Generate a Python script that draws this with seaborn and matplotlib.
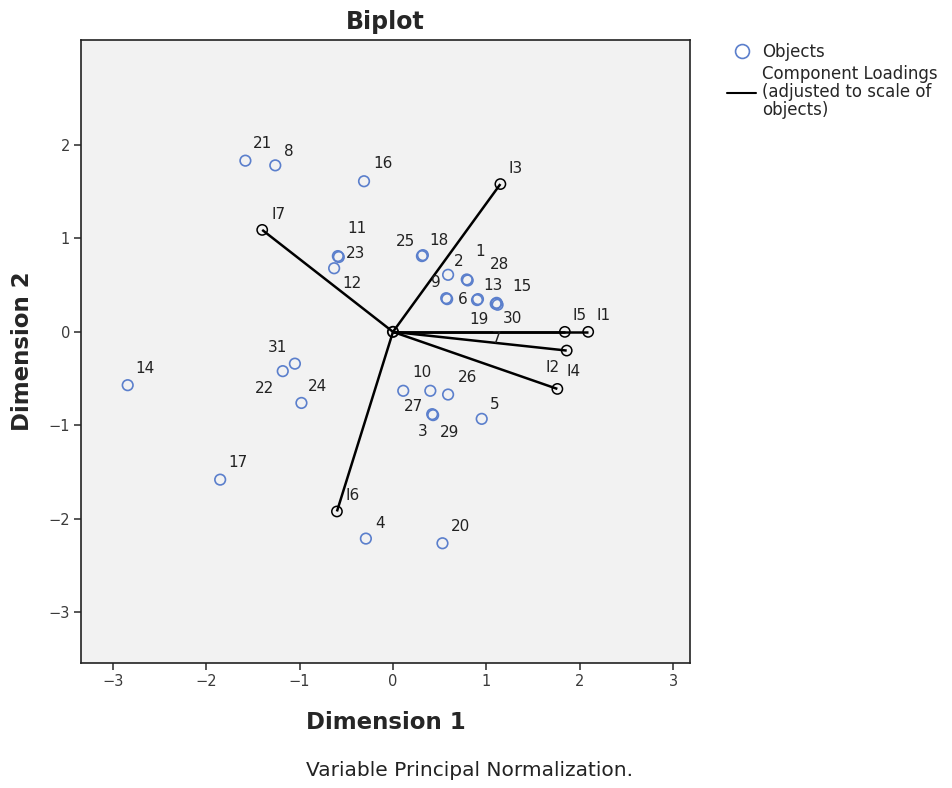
import matplotlib
matplotlib.use("Agg")
import matplotlib.pyplot as plt
from matplotlib.lines import Line2D
import seaborn as sns
import pandas as pd

# ---------------- data ----------------
obj_labels = ["1", "2", "3", "4", "5", "6", "7", "8", "9", "10",
              "11", "12", "13", "14", "15", "16", "17", "18", "19", "20",
              "21", "22", "23", "24", "25", "26", "27", "28", "29", "30", "31"]
obj_x = [0.79, 0.59, 0.42, -0.29, 0.95, 0.58, 1.12, -1.26, 0.57, 0.40,
         -0.59, -0.63, 0.90, -2.84, 1.10, -0.31, -1.85, 0.31, 0.91, 0.53,
         -1.58, -1.18, -0.58, -0.98, 0.32, 0.59, 0.11, 0.80, 0.43, 1.11, -1.05]
obj_y = [0.56, 0.61, -0.88, -2.21, -0.93, 0.35, 0.29, 1.78, 0.36, -0.63,
         0.81, 0.68, 0.34, -0.57, 0.30, 1.61, -1.58, 0.81, 0.35, -2.26,
         1.83, -0.42, 0.80, -0.76, 0.82, -0.67, -0.63, 0.55, -0.89, 0.31, -0.34]

load_labels = ["I1", "I2", "I3", "I4", "I5", "I6", "I7"]
load_x = [2.09, 1.86, 1.15, 1.76, 1.84, -0.60, -1.40]
load_y = [0.00, -0.20, 1.58, -0.61, 0.00, -1.92, 1.09]

x_ticks = [-3, -2, -1, 0, 1, 2, 3]
y_ticks = [-3, -2, -1, 0, 1, 2]

# ---------------- layout (label offsets in pixels) ----------------
obj_label_offsets = {
    "1": (13, 28), "2": (11, 13), "3": (-10, -17), "4": (14, 15), "5": (13, 14),
    "6": (16, 0), "7": (-1, -34), "8": (14, 14), "9": (-10, 16), "10": (-8, 18),
    "11": (19, 28), "12": (18, -15), "13": (16, 15), "14": (17, 17), "15": (26, 17),
    "16": (19, 18), "17": (18, 17), "18": (17, 16), "19": (1, -20), "20": (18, 17),
    "21": (17, 17), "22": (-18, -17), "23": (17, 4), "24": (16, 16), "25": (-17, 14),
    "26": (19, 17), "27": (10, -16), "28": (32, 16), "29": (16, -17), "30": (16, -16),
    "31": (-17, 16),
}
load_label_offsets = {
    "I1": (15, 16), "I2": (-14, -17), "I3": (15, 16), "I4": (16, 17),
    "I5": (15, 16), "I6": (16, 16), "I7": (16, 15),
}

blue = "#5B7FCC"
W, H = 953, 788

sns.set_theme(style="ticks")
plt.rcParams["font.family"] = ["DejaVu Sans"]

fig = plt.figure(figsize=(W / 100, H / 100), dpi=100)
ax = fig.add_axes([81 / W, 1 - 663 / H, (690 - 81) / W, (663 - 40) / H])
ax.set_facecolor("#F2F2F2")

objs = pd.DataFrame({"label": obj_labels, "x": obj_x, "y": obj_y})
loads = pd.DataFrame({"label": load_labels, "x": load_x, "y": load_y})

# loading vectors
for _, r in loads.iterrows():
    ax.plot([0, r["x"]], [0, r["y"]], color="black", lw=1.8, zorder=2,
            solid_capstyle="butt")
sns.scatterplot(data=loads, x="x", y="y", ax=ax, marker="o", s=55,
                facecolors="none", edgecolor="black", linewidth=1.1, zorder=3,
                legend=False)
ax.scatter([0], [0], s=55, facecolors="none", edgecolors="black",
           linewidths=1.3, zorder=3)

# objects
sns.scatterplot(data=objs, x="x", y="y", ax=ax, marker="o", s=58,
                facecolors="none", edgecolor=blue, linewidth=1.2, zorder=4,
                legend=False)

for _, r in objs.iterrows():
    dx, dy = obj_label_offsets[r["label"]]
    ax.annotate(r["label"], (r["x"], r["y"]), xytext=(dx, dy),
                textcoords="offset pixels", ha="center", va="center",
                fontsize=11, color="#222222", zorder=5)
for _, r in loads.iterrows():
    dx, dy = load_label_offsets[r["label"]]
    ax.annotate(r["label"], (r["x"], r["y"]), xytext=(dx, dy),
                textcoords="offset pixels", ha="center", va="center",
                fontsize=11, color="#222222", zorder=5)

ax.set_xlim(-3.34, 3.18)
ax.set_ylim(-3.54, 3.12)
ax.set_xticks(x_ticks)
ax.set_yticks(y_ticks)
ax.set_xticklabels([("\u2212" + str(-t)) if t < 0 else str(t) for t in x_ticks])
ax.set_yticklabels([("\u2212" + str(-t)) if t < 0 else str(t) for t in y_ticks])
ax.tick_params(axis="both", direction="out", length=5, width=1.2,
               labelsize=10.5, colors="#3a3a3a", pad=3)
for sp in ax.spines.values():
    sp.set_color("#222222")
    sp.set_linewidth(1.2)

ax.set_xlabel("Dimension 1", fontsize=16.5, fontweight="bold", labelpad=16)
ax.set_ylabel("Dimension 2", fontsize=16.5, fontweight="bold", labelpad=10)
ax.set_title("Biplot", fontsize=17, fontweight="bold", pad=8)

fig.text(470 / W, 1 - 771 / H, "Variable Principal Normalization.",
         ha="center", va="center", fontsize=14.5, color="#222222")

handles = [
    Line2D([], [], marker="o", ls="none", mfc="none", mec=blue, ms=10, mew=1.2),
    Line2D([], [], color="black", lw=1.5),
]
leg = fig.legend(handles, ["Objects",
                           "Component Loadings\n(adjusted to scale of\nobjects)"],
                 loc="upper left", bbox_to_anchor=(727 / W, 1 - 43 / H),
                 frameon=False, fontsize=12, handlelength=1.75, handletextpad=0.35,
                 labelspacing=0.25, borderaxespad=0, borderpad=0)
for t in leg.get_texts():
    t.set_linespacing(1.0)

fig.savefig("out.png", dpi=100)
